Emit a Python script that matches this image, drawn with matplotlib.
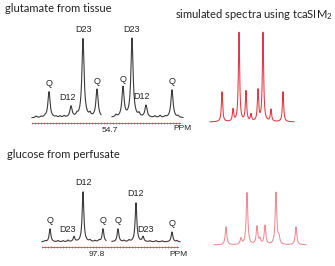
import matplotlib
matplotlib.use("Agg")
import matplotlib.pyplot as plt
import numpy as np

plt.rcParams["mathtext.fontset"] = "custom"
plt.rcParams["mathtext.rm"] = "Lato"
plt.rcParams["mathtext.it"] = "Lato"

# peak lists: position (px), height (px above baseline), labels
glu_pos = [49, 71, 83, 97, 123, 132, 146, 172]
glu_h = [26, 11, 79, 28, 30, 79, 12, 28]
glu_lab = ["Q", "D12", "D23", "Q", "Q", "D23", "D12", "Q"]
glu_small_pos = [36, 41, 45, 56, 60, 64, 77, 90, 116, 139, 155, 160, 165, 178]
glu_small_h = [1.5, 1.0, 1.2, 1.0, 1.3, 1.5, 2.5, 3.0, 2.0, 3.0, 1.5, 2.0, 1.2, 1.5]

glc_pos = [50, 74, 83, 103, 118, 136, 143, 172]
glc_h = [13, 5, 50, 13, 13, 39, 5, 10]
glc_lab = ["Q", "D23", "D12", "Q", "Q", "D12", "D23", "Q"]
glc_small_pos = [45, 58, 63, 68, 90, 95, 99, 124, 129, 150, 156, 162, 177]
glc_small_h = [1.0, 1.2, 1.0, 1.5, 1.5, 1.0, 1.5, 1.2, 1.5, 1.0, 1.2, 1.0, 1.2]

sim1_pos = [222, 233, 239, 246, 251, 258, 263, 271, 283]
sim1_h = [30, 12, 89, 30, 7, 31, 89, 12, 30]

sim2_pos = [226, 241, 247, 257, 260, 265, 276, 279, 296]
sim2_h = [18, 6, 52, 18, 5, 19, 52, 6, 18]


def lor(x, pos, h, w):
    y = np.zeros_like(x)
    for p, a in zip(pos, h):
        y += a * w**2 / ((x - p)**2 + w**2)
    return y


fig = plt.figure(figsize=(3.35, 2.66), dpi=100)
ax = fig.add_axes([0, 0, 1, 1])
ax.set_xlim(0, 335)
ax.set_ylim(266, 0)
ax.axis("off")

gray = "#3c3c3c"
lab_font = dict(family="Liberation Sans", fontsize=6.5, ha="center", va="bottom", color="#222222")

# glutamate (top left)
base = 118
for x0, x1 in [(32, 101), (112, 183)]:
    x = np.linspace(x0, x1, 800)
    y = lor(x, glu_pos, glu_h, 1.3) + lor(x, glu_small_pos, glu_small_h, 1.0)
    ax.plot(x, base - y, color=gray, lw=0.8)
for p, h, t in zip(glu_pos, glu_h, glu_lab):
    dy = 4 if t == "Q" else 5
    ax.text(p - (4 if t == "D12" else 0), base - h - dy, t, **lab_font)

# glucose (bottom left)
base2 = 242
for x0, x1 in [(42, 106), (112, 180)]:
    x = np.linspace(x0, x1, 800)
    y = lor(x, glc_pos, glc_h, 1.0) + lor(x, glc_small_pos, glc_small_h, 0.9)
    ax.plot(x, base2 - y, color=gray, lw=0.8)
for p, h, t in zip(glc_pos, glc_h, glc_lab):
    off = {"D23": -7, "D12": 0, "Q": 0}[t]
    dy = 4 if t != "D12" else 5
    if t == "D23":
        dy = 3
    ax.text(p + off if not (t == "D23" and p > 120) else p + 3, base2 - h - dy, t, **lab_font)

# red ruler axes
red = "#e8353d"
for x0, x1, yy in [(32, 180, 122.5), (42, 178, 247)]:
    ax.plot([x0, x1], [yy, yy], color=red, lw=0.6)
    xt = np.arange(x0, x1, 3.0)
    ax.plot(xt, np.full_like(xt, yy), ls="none", marker="|", ms=2, mew=0.4, color=red)

ax.text(110, 130, "54.7", family="Liberation Sans", fontsize=6, ha="center", va="center", color="#222222")
ax.text(97, 255, "97.8", family="Liberation Sans", fontsize=6, ha="center", va="center", color="#222222")
ax.text(182, 128, "PPM", family="Liberation Sans", fontsize=6, ha="center", va="center", color="#222222")
ax.text(178, 255, "PPM", family="Liberation Sans", fontsize=6, ha="center", va="center", color="#222222")

# simulated spectra
x = np.linspace(210, 294, 1200)
ax.plot(x, 122 - lor(x, sim1_pos, sim1_h, 0.75), color="#e5363d", lw=0.75)
x = np.linspace(214, 306, 1200)
ax.plot(x, 245 - lor(x, sim2_pos, sim2_h, 0.95), color="#f08a92", lw=0.75)

tf = dict(family="Lato", fontsize=8, va="center", color="#222222")
ax.text(5, 9, "glutamate from tissue", ha="left", **tf)
ax.text(175, 14, "simulated spectra using tcaSIM$_2$", ha="left", **tf)
ax.text(7, 155, "glucose from perfusate", ha="left", **tf)

plt.savefig("out.png", dpi=100)
